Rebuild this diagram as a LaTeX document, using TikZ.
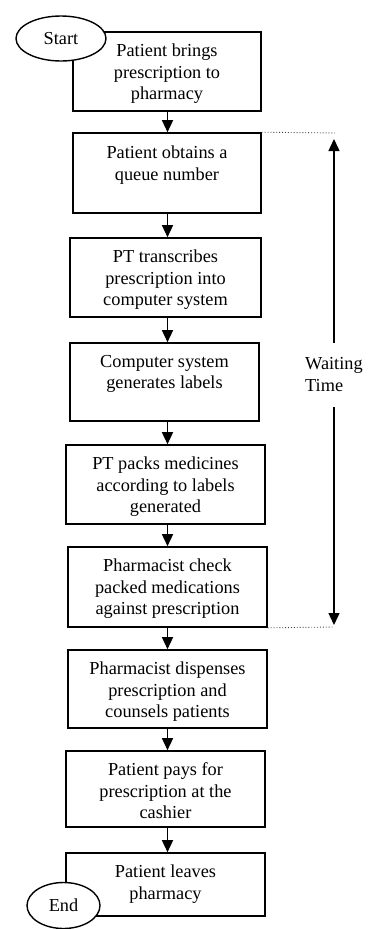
\documentclass[tikz,border=0pt]{standalone}
\usepackage{fontspec}
\setmainfont{Liberation Serif}
\usetikzlibrary{arrows.meta,shapes.geometric,calc}
\begin{document}
\begin{tikzpicture}[x=1pt,y=-1pt,
  every node/.style={font=\fontsize{18.3}{21.5}\selectfont},
  stepbox/.style={draw, line width=1.6pt, inner sep=0pt},
  steptext/.style={anchor=north, inner sep=0pt, align=center},
  flow/.style={-{Triangle[length=12pt,width=11pt]}, line width=1.4pt},
  term/.style={ellipse, draw, fill=white, line width=1.4pt, inner sep=0pt},
  guide/.style={dotted, line width=0.9pt, black!75}]
\useasboundingbox (0,0) rectangle (370,929);

% process boxes
\node[stepbox, minimum width=188pt, minimum height=79pt] (b1) at (167,71.5) {};
\node[stepbox, minimum width=188pt, minimum height=80pt] (b2) at (167,173) {};
\node[stepbox, minimum width=191pt, minimum height=79pt] (b3) at (165.5,277.5) {};
\node[stepbox, minimum width=189pt, minimum height=78pt] (b4) at (164.5,382) {};
\node[stepbox, minimum width=199pt, minimum height=79pt] (b5) at (165.5,484.5) {};
\node[stepbox, minimum width=199pt, minimum height=80pt] (b6) at (167.5,587) {};
\node[stepbox, minimum width=199pt, minimum height=78pt] (b7) at (167.5,689) {};
\node[stepbox, minimum width=199pt, minimum height=76pt] (b8) at (165.5,789) {};
\node[stepbox, minimum width=199pt, minimum height=63pt] (b9) at (165.5,884.5) {};

% box texts, set from the top of each box
\node[steptext] (t1) at ($(b1.north)+(0,12.5)$) {Patient brings\\prescription to\\pharmacy};
\node[steptext] (t2) at ($(b2.north)+(0,13.5)$) {Patient obtains a\\queue number};
\node[steptext] (t3) at ($(b3.north)+(0,12.5)$) {PT transcribes\\prescription into\\computer system};
\node[steptext] (t4) at ($(b4.north)+(0,12.5)$) {Computer system\\generates labels};
\node[steptext] (t5) at ($(b5.north)+(0,12.5)$) {PT packs medicines\\according to labels\\generated};
\node[steptext] (t6) at ($(b6.north)+(0,12.5)$) {Pharmacist check\\packed medications\\against prescription};
\node[steptext] (t7) at ($(b7.north)+(0,12.5)$) {Pharmacist dispenses\\prescription and\\counsels patients};
\node[steptext] (t8) at ($(b8.north)+(0,12.5)$) {Patient pays for\\prescription at the\\cashier};
\node[steptext] (t9) at ($(b9.north)+(0,12.5)$) {Patient leaves\\pharmacy};

% start / end terminals
\node[term, minimum width=90pt, minimum height=45pt] (start) at (61,38.5) {Start};
\node[term, minimum width=73pt, minimum height=46pt] (end) at (63.5,905.5) {End};

% flow arrows
\coordinate (axis) at (167.5,0);
\draw[flow] (b1.south -| axis) -- (b2.north -| axis);
\draw[flow] (b2.south -| axis) -- (b3.north -| axis);
\draw[flow] (b3.south -| axis) -- (b4.north -| axis);
\draw[flow] (b4.south -| axis) -- (b5.north -| axis);
\draw[flow] (b5.south -| axis) -- (b6.north -| axis);
\draw[flow] (b6.south -| axis) -- (b7.north -| axis);
\draw[flow] (b7.south -| axis) -- (b8.north -| axis);
\draw[flow] (b8.south -| axis) -- (b9.north -| axis);

% waiting time span
\coordinate (wtopline) at (337,133);
\coordinate (wbotline) at (334,627);
\coordinate (wtop) at (334,139);
\coordinate (wbot) at (334,625);
\coordinate (gapA) at (334,343);
\coordinate (gapB) at (334,407);
\draw[guide] (b2.north east) -- (wtopline);
\draw[guide] (b6.south east) -- (wbotline);
\draw[flow] (gapA) -- (wtop);
\draw[flow] (gapB) -- (wbot);
\node[anchor=north west, inner sep=0pt, align=left] (wt) at (305,357.5) {Waiting\\Time};
\end{tikzpicture}
\end{document}
